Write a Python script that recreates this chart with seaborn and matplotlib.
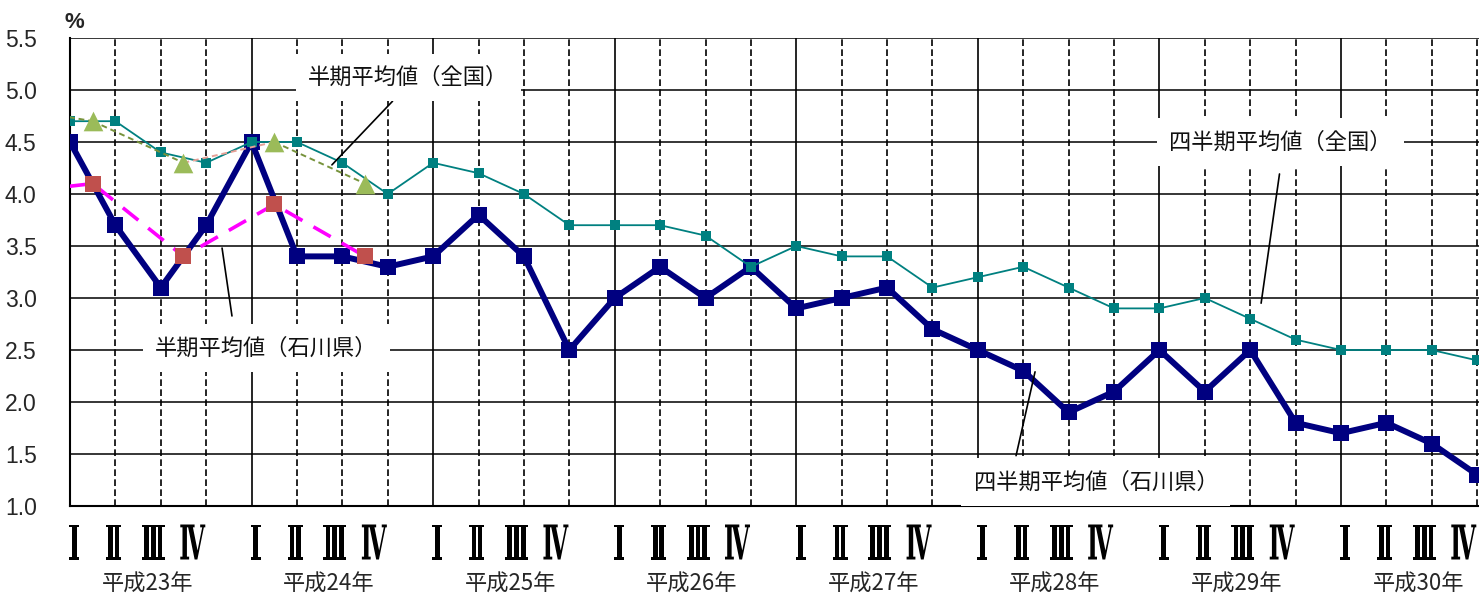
import numpy as np
import pandas as pd
import matplotlib
matplotlib.use('Agg')
import matplotlib.pyplot as plt
import seaborn as sns
from matplotlib.textpath import TextPath
from matplotlib.patches import PathPatch
from matplotlib.font_manager import FontProperties
from matplotlib.transforms import Affine2D, blended_transform_factory

# --- data ---
years = ['平成23年', '平成24年', '平成25年', '平成26年', '平成27年', '平成28年', '平成29年', '平成30年']
quarters = ['Ⅰ', 'Ⅱ', 'Ⅲ', 'Ⅳ']

# quarterly averages, 平成23年Ⅰ .. 平成30年Ⅳ
ishikawa_q = [4.5, 3.7, 3.1, 3.7, 4.5, 3.4, 3.4, 3.3,
              3.4, 3.8, 3.4, 2.5, 3.0, 3.3, 3.0, 3.3,
              2.9, 3.0, 3.1, 2.7, 2.5, 2.3, 1.9, 2.1,
              2.5, 2.1, 2.5, 1.8, 1.7, 1.8, 1.6, 1.3]
national_q = [4.7, 4.7, 4.4, 4.3, 4.5, 4.5, 4.3, 4.0,
              4.3, 4.2, 4.0, 3.7, 3.7, 3.7, 3.6, 3.3,
              3.5, 3.4, 3.4, 3.1, 3.2, 3.3, 3.1, 2.9,
              2.9, 3.0, 2.8, 2.6, 2.5, 2.5, 2.5, 2.4]

# half-year averages: 平成22年下期 (off the left edge), 23上, 23下, 24上, 24下
half_periods = ['H22下', 'H23上', 'H23下', 'H24上', 'H24下']
ishikawa_h = [4.0, 4.1, 3.4, 3.9, 3.4]
national_h = [4.85, 4.7, 4.3, 4.5, 4.1]

# --- frames ---
df_q = pd.DataFrame({'x': np.arange(len(ishikawa_q)), 'ishikawa': ishikawa_q, 'national': national_q})
df_h = pd.DataFrame({'x': np.arange(-1, len(half_periods) - 1) * 2 + 0.5,
                     'ishikawa': ishikawa_h, 'national': national_h})

sns.set_style('white')
plt.rcParams['font.family'] = ['Liberation Sans', 'Noto Sans CJK JP', 'DejaVu Sans']
plt.rcParams['axes.unicode_minus'] = False
JP = ['Noto Sans CJK JP', 'DejaVu Sans']

W, H = 1479, 597
fig = plt.figure(figsize=(W / 100, H / 100), dpi=100)
fig.patch.set_facecolor('white')
ax = fig.add_axes([70 / W, 91 / H, 1409 / W, 468 / H])
ax.set_facecolor('white')

# lines
sns.lineplot(data=df_q, x='x', y='ishikawa', ax=ax, color='#000080', lw=4.3,
             marker='s', markersize=11, markeredgewidth=0, zorder=4)
sns.lineplot(data=df_q, x='x', y='national', ax=ax, color='#008080', lw=1.3,
             marker='s', markersize=7, markeredgewidth=0, zorder=5)
sns.lineplot(data=df_h, x='x', y='ishikawa', ax=ax, color='#FF00FF', lw=2.6, zorder=6)
ax.lines[-1].set_linestyle((0, (5.5, 3.5)))
ax.scatter(df_h['x'], df_h['ishikawa'], marker='s', s=130, color='#C0504D', zorder=7, linewidths=0)

seg_colors = ['#77933C', '#77933C', '#E6A096', '#77933C']
for i, c in enumerate(seg_colors):
    seg = df_h.iloc[i:i + 2]
    sns.lineplot(data=seg, x='x', y='national', ax=ax, color=c, lw=1.4, zorder=6)
    ax.lines[-1].set_linestyle((0, (3, 2)))
ax.scatter(df_h['x'], df_h['national'], marker='^', s=200, color='#9BBB59', zorder=8, linewidths=0)

# axes, grid
ax.set_xlim(0, 31.04)
ax.set_ylim(1.0, 5.5)
ax.set_yticks(np.arange(1.0, 5.51, 0.5))
ax.set_yticklabels([f'{v:.1f}' for v in np.arange(1.0, 5.51, 0.5)], fontsize=16.5)
n = len(ishikawa_q)
ax.set_xticks([i for i in range(n) if i % 4 == 0])
ax.set_xticks([i for i in range(n) if i % 4 != 0], minor=True)
ax.set_xticklabels([])
ax.tick_params(axis='x', which='both', direction='out', length=4, width=1.2, color='black')
ax.tick_params(axis='y', length=0, pad=24)
ax.set_axisbelow(True)
ax.yaxis.grid(True, color='black', lw=1.1)
ax.xaxis.grid(True, which='major', color='black', lw=1.2)
ax.xaxis.grid(True, which='minor', color='black', lw=1.2, linestyle=(0, (4, 2)))
for s in ['top', 'right']:
    ax.spines[s].set_visible(False)
for s in ['left', 'bottom']:
    ax.spines[s].set_color('black')
    ax.spines[s].set_linewidth(1.5)
ax.set_xlabel('')
ax.set_ylabel('')

fig.text(74 / W, 1 - 23 / H, '%', ha='center', va='center', fontsize=16, fontweight='bold')

# quarter numerals (tall, condensed serif) and year labels
fp = FontProperties(family='DejaVu Serif', weight='bold')
paths = [TextPath((0, 0), q, size=100, prop=fp) for q in quarters]
glyph_w = [10, 15, 23, 25]   # drawn widths in pixels
glyph_h = 35
fig.canvas.draw()
yb = blended_transform_factory(ax.transData, fig.transFigure)
for yi, yr in enumerate(years):
    mid = yi * 4 + 1.5
    for qi, tp in enumerate(paths):
        xc = mid - 0.1 + (qi - 1.5) * 0.87
        px = ax.transData.transform((xc, 1.0))[0]
        ext = tp.get_extents()
        tr = Affine2D().translate(-(ext.x0 + ext.width / 2), -(ext.y0 + ext.height / 2)) \
            .scale(glyph_w[qi] / ext.width, glyph_h / ext.height).translate(px, H - 542)
        fig.add_artist(PathPatch(tp, transform=tr, facecolor='black', edgecolor='none'))
    ax.text(mid + 0.2, 1 - 584 / H, yr, transform=yb, ha='center', va='center',
            fontsize=16, family=JP, clip_on=False)

# callouts
box = dict(boxstyle='square,pad=0.55', fc='white', ec='none')
def callout(text, xy, xytext, relpos, shrink):
    ax.annotate(text, xy=xy, xytext=xytext, ha='center', va='center', fontsize=16,
                family=JP, color='#111111', bbox=box, zorder=10,
                arrowprops=dict(arrowstyle='-', color='black', lw=1.2, shrinkA=shrink,
                                shrinkB=0, relpos=relpos))

callout('半期平均値（全国）', (5.77, 4.28), (7.45, 5.12), (0.48, 0.0), 0)
callout('半期平均値（石川県）', (3.35, 3.48), (4.32, 2.52), (0.36, 1.0), 6)
callout('四半期平均値（全国）', (26.24, 2.95), (26.66, 4.5), (0.51, 0.0), 6)
callout('四半期平均値（石川県）', (21.26, 2.29), (22.6, 1.23), (0.16, 1.0), 2)

fig.savefig('out.png', dpi=100)
